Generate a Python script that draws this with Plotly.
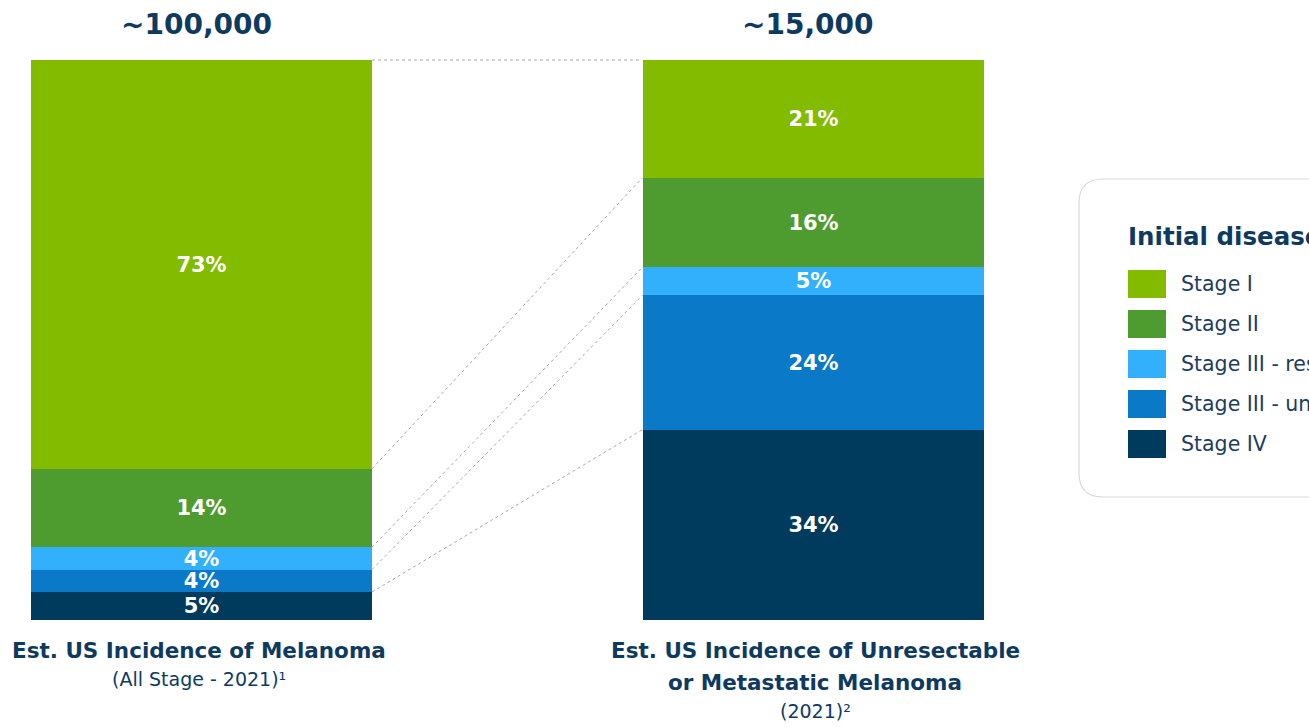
import numpy as np
import plotly.graph_objects as go

# Stages, listed bottom-up in the stacks
stages = ["Stage IV", "Stage III - unresectable", "Stage III - resectable", "Stage II", "Stage I"]
colors = ["#003a5c", "#0a79c8", "#33b0fc", "#4e9c30", "#82bb00"]

# Share of each stage (%) in the two populations
all_stage_pct = [5, 4, 4, 14, 73]
unresectable_pct = [34, 24, 5, 16, 21]

totals = ["~100,000", "~15,000"]
title_lines = [["Est. US Incidence of Melanoma"],
               ["Est. US Incidence of Unresectable", "or Metastatic Melanoma"]]
subtitles = ["(All Stage - 2021)\u00b9", "(2021)\u00b2"]

W, H = 1309, 727
NAVY = "#0f3a5f"
FONT = "DejaVu Sans"

# Layout in pixels: bar centres on a pixel x-axis, y-axis in percent
bar_x = [201.5, 813.0]
bar_w = 341
y_top_px, y_bot_px = 60, 620
px_per_pct = (y_bot_px - y_top_px) / 100.0
y_range = [-(H - y_bot_px) / px_per_pct, y_bot_px / px_per_pct]


def px_y(py):
    """Pixel row from the top -> paper coordinate."""
    return 1 - py / H


fig = go.Figure()

for i, stage in enumerate(stages):
    vals = [all_stage_pct[i], unresectable_pct[i]]
    fig.add_trace(go.Bar(
        x=bar_x, y=vals, width=bar_w, name=stage,
        marker=dict(color=colors[i], line=dict(width=0)),
        text=[f"{v}%" for v in vals], textposition="inside",
        insidetextanchor="middle",
        textfont=dict(family=FONT, size=21, color="white", weight="bold"),
        hoverinfo="skip", showlegend=False,
    ))

# Dashed connectors between matching stage boundaries of the two stacks
cum_left = np.concatenate([[0], np.cumsum(all_stage_pct)])
cum_right = np.concatenate([[0], np.cumsum(unresectable_pct)])
x_l = bar_x[0] + bar_w / 2
x_r = bar_x[1] - bar_w / 2
for k in range(1, len(stages) + 1):
    fig.add_trace(go.Scatter(
        x=[x_l, x_r], y=[cum_left[k], cum_right[k]], mode="lines",
        line=dict(color="#a9a9a9", width=1, dash="dot"),
        hoverinfo="skip", showlegend=False,
    ))

annotations = []
for j in range(2):
    annotations.append(dict(
        x=bar_x[j] - 5, y=px_y(25), xref="x", yref="paper", yanchor="middle",
        text=f"<b>{totals[j]}</b>", showarrow=False,
        font=dict(family=FONT, size=28, color=NAVY),
    ))

# Captions under the bars
caption_x = [bar_x[0] - 3, bar_x[1] + 2]
for j in range(2):
    row_y = 650
    for line in title_lines[j]:
        annotations.append(dict(
            x=caption_x[j], y=px_y(row_y), xref="x", yref="paper", yanchor="middle",
            text=f"<b>{line}</b>", showarrow=False,
            font=dict(family=FONT, size=21.5, color=NAVY),
        ))
        row_y += 32
    annotations.append(dict(
        x=caption_x[j], y=px_y(row_y - 3), xref="x", yref="paper", yanchor="middle",
        text=subtitles[j], showarrow=False,
        font=dict(family=FONT, size=19, color=NAVY),
    ))

# Hand-built legend panel at the right edge
shapes = []
bx0, bx1, by0, by1, r = 1079, 1340, 179, 497, 24
path = (f"M {bx0 + r},{px_y(by0)} L {bx1},{px_y(by0)} L {bx1},{px_y(by1)} "
        f"L {bx0 + r},{px_y(by1)} Q {bx0},{px_y(by1)} {bx0},{px_y(by1 - r)} "
        f"L {bx0},{px_y(by0 + r)} Q {bx0},{px_y(by0)} {bx0 + r},{px_y(by0)} Z")
shapes.append(dict(type="path", path=path, xref="x", yref="paper",
                   line=dict(color="#d9d9d9", width=1.2), fillcolor="white", layer="below"))

annotations.append(dict(
    x=1126, y=px_y(236), xref="x", yref="paper", xanchor="left", yanchor="middle",
    text="<b>Initial disease stage</b>", showarrow=False,
    font=dict(family=FONT, size=24.5, color=NAVY),
))
for row, idx in enumerate(range(len(stages) - 1, -1, -1)):
    cy = 284 + row * 40
    shapes.append(dict(type="rect", xref="x", yref="paper",
                       x0=1128, x1=1166, y0=px_y(cy + 14), y1=px_y(cy - 14),
                       fillcolor=colors[idx], line=dict(width=0)))
    annotations.append(dict(
        x=1179, y=px_y(cy), xref="x", yref="paper", xanchor="left", yanchor="middle",
        text=stages[idx], showarrow=False,
        font=dict(family=FONT, size=20.5, color="#1b3d5e"),
    ))

fig.update_layout(
    width=W, height=H, barmode="stack", bargap=0,
    margin=dict(l=0, r=0, t=0, b=0),
    paper_bgcolor="white", plot_bgcolor="white",
    xaxis=dict(range=[0, W], visible=False, fixedrange=True),
    yaxis=dict(range=y_range, visible=False, fixedrange=True),
    uniformtext=dict(minsize=21, mode="show"),
    annotations=annotations, shapes=shapes,
)

fig.write_html("out.html", config={"displayModeBar": False})
